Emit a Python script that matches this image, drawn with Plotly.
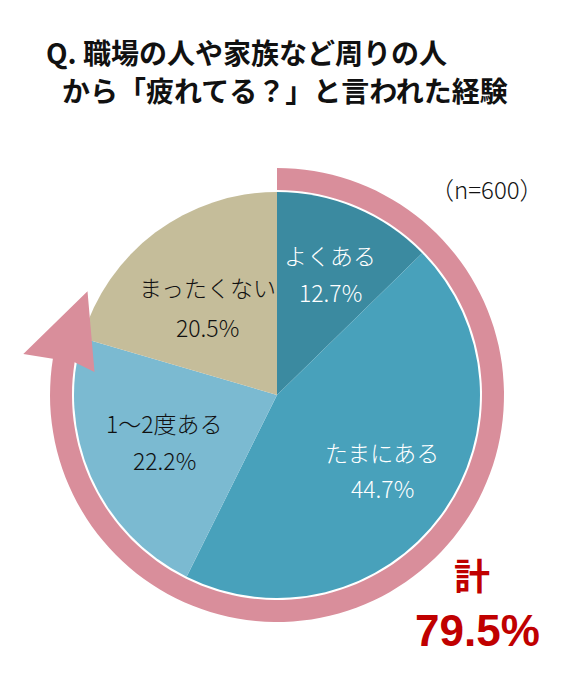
import numpy as np
import plotly.graph_objects as go

# データ
labels = ['よくある', 'たまにある', '1～2度ある', 'まったくない']
values = [12.7, 44.7, 22.2, 20.5]
colors = ['#3b8aa0', '#48a1bb', '#7bbad1', '#c5bd9a']
text_colors = ['white', 'white', '#111111', '#111111']
total_label = 79.5
n_label = '（n=600）'
title_lines = ['Q. 職場の人や家族など周りの人', 'から「疲れてる？」と言われた経験']

W, H = 570, 682
cx, cy, r = 277, 395, 203   # 円グラフの中心と半径（ピクセル）

fig = go.Figure()

fig.add_trace(go.Pie(
    labels=labels, values=values, sort=False, direction='clockwise', rotation=0,
    marker=dict(colors=colors, line=dict(width=0)),
    textinfo='none', hoverinfo='label+percent', showlegend=False,
    domain=dict(x=[(cx - r) / W, (cx + r) / W], y=[1 - (cy + r) / H, 1 - (cy - r) / H]),
))


def polar(ang_deg, rad):
    a = np.radians(ang_deg)
    return cx + rad * np.sin(a), cy - rad * np.cos(a)


# 計の矢印（0° から時計回り）
end_ang = 360 * total_label / 100
base_ang = end_ang - 7
tip_ang = end_ang + 12.5
ri, ro = 205, 227
outer = np.linspace(0, base_ang, 120)
inner = outer[::-1]
pts = [polar(a, ro) for a in outer]
pts.append(polar(base_ang, 257))
pts.append(polar(tip_ang, 216))
pts.append(polar(base_ang - 2, 184))
pts += [polar(a, ri) for a in inner]
path = 'M ' + ' L '.join(f'{x:.1f},{y:.1f}' for x, y in pts) + ' Z'
fig.add_shape(type='path', path=path, xref='x', yref='y', fillcolor='#d98e9b',
              line=dict(width=0), layer='above')

# ラベル
label_pos = [(330, 255, 292), (382, 452, 488), (164, 423, 460), (207, 287, 327)]
for lab, val, col, (x, y1, y2) in zip(labels, values, text_colors, label_pos):
    fig.add_annotation(x=x, y=y1, text=lab, showarrow=False, xref='x', yref='y',
                       font=dict(size=23, color=col, family='Noto Sans CJK JP', weight=300))
    fig.add_annotation(x=x, y=y2, text=f'{val:.1f}%', showarrow=False, xref='x', yref='y',
                       font=dict(size=23, color=col, family='Noto Sans CJK JP', weight=300))

fig.add_annotation(x=487, y=188, text=n_label, showarrow=False, xref='x', yref='y',
                   font=dict(size=24, color='#111111', family='Noto Sans CJK JP', weight=300))

# 計
fig.add_annotation(x=472, y=574, text='<b>計</b>', showarrow=False, xref='x', yref='y',
                   font=dict(size=36, color='#c00000', family='Noto Sans CJK JP'))
fig.add_annotation(x=477, y=630, text=f'<b>{total_label}%</b>', showarrow=False, xref='x', yref='y',
                   font=dict(size=44, color='#c00000', family='Liberation Sans'))

# タイトル
fig.add_annotation(x=44, y=52, text=f'<b>{title_lines[0]}</b>', showarrow=False, xref='x', yref='y',
                   xanchor='left', font=dict(size=28, color='#111111', family='Noto Sans CJK JP'))
fig.add_annotation(x=60, y=90, text=f'<b>{title_lines[1]}</b>', showarrow=False, xref='x', yref='y',
                   xanchor='left', font=dict(size=28, color='#111111', family='Noto Sans CJK JP'))

fig.update_xaxes(range=[0, W], visible=False, fixedrange=True)
fig.update_yaxes(range=[H, 0], visible=False, fixedrange=True)
fig.update_layout(width=W, height=H, margin=dict(l=0, r=0, t=0, b=0),
                  paper_bgcolor='white', plot_bgcolor='white')

fig.write_html('out.html', config={'displayModeBar': False},
               post_script="document.body.style.margin='0px';")
